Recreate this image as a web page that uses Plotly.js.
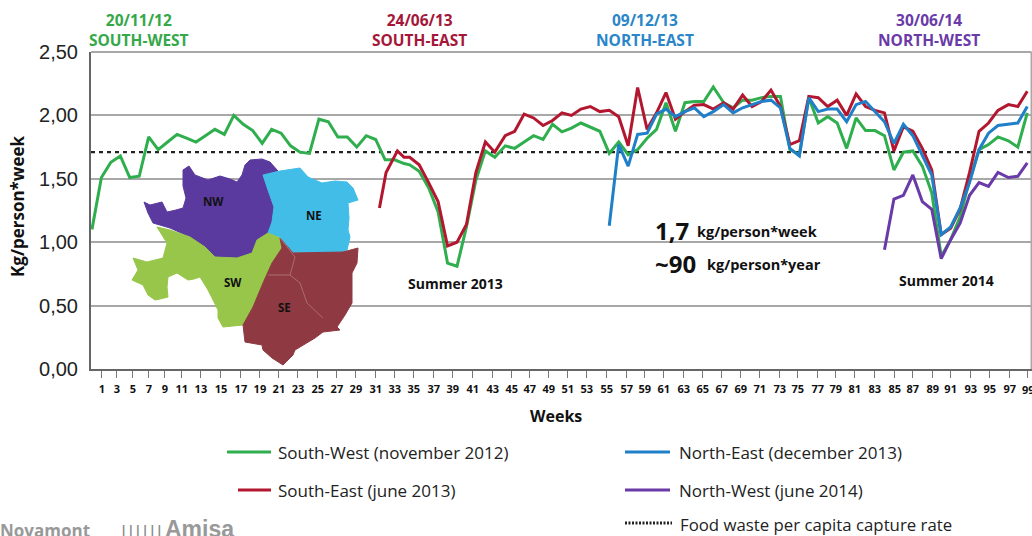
<!DOCTYPE html>
<html>
<head>
<meta charset="utf-8">
<script src="https://cdn.plot.ly/plotly-3.0.1.min.js"></script>
<style>html,body{margin:0;padding:0;background:#fff;overflow:hidden}#c{width:1032px;height:536px}</style>
</head>
<body>
<div id="c"></div>
<script>
// Week positions of the samples, as read against the axis
const weeks = [0,1,2,3,4,5,6,7,8,9,10,11,12,13,14,15,16,17,18,19,20,21,22,23,24,25,26,27,28,29,30,31,32,33,
  33.6,34.6,35.6,36.6,37.6,38.6,39.6,40.6,41.6,42.6,43.7,44.7,45.7,46.7,47.7,48.7,49.7,50.7,51.7,52.7,53.7,54.7,55.7,56.7,
  57.7,58.7,59.7,60.7,61.7,62.7,63.7,64.7,65.7,66.8,67.8,68.8,69.8,70.8,71.8,72.8,73.8,74.8,75.8,76.8,77.8,78.8,79.8,80.8,
  81.8,82.8,83.8,84.8,85.8,86.8,87.8,88.8,89.8,90.8,91.8,92.8,93.8,94.8,95.8,96.9,97.9,98.9];

const southWest = [1.10,1.51,1.63,1.68,1.51,1.52,1.83,1.73,1.79,1.85,1.82,1.79,1.84,1.89,1.85,2.00,1.93,1.88,1.78,1.89,
  1.86,1.76,1.71,1.70,1.97,1.95,1.83,1.83,1.75,1.84,1.81,1.65,1.65,1.62,
  1.61,1.56,1.43,1.24,0.835,0.81,1.12,1.49,1.72,1.67,1.76,1.74,1.79,1.84,1.81,1.93,1.87,1.90,1.94,1.91,1.875,1.70,1.79,1.69,
  1.73,1.82,1.89,2.10,1.875,2.10,2.11,2.11,2.225,2.10,2.06,2.12,2.12,2.14,2.15,2.15,1.73,1.69,2.14,1.94,1.99,1.94,1.74,1.98,
  1.88,1.88,1.84,1.57,1.71,1.72,1.60,1.39,0.89,1.02,1.20,1.49,1.73,1.77,1.83,1.80,1.75,2.02];

const southEastStart = [30.4,31.1,32.3,33];
const southEastHead = [1.27,1.55,1.72,1.67];
const southEastTail = [1.67,1.61,1.47,1.32,0.97,1.00,1.14,1.55,1.79,1.71,1.84,1.875,2.01,1.98,1.92,1.96,2.02,2.00,2.05,2.07,2.03,2.04,1.99,1.76,
  2.22,1.89,2.02,2.18,1.97,2.03,2.08,2.085,2.05,2.10,2.05,2.16,2.07,2.11,2.20,2.07,1.77,1.80,2.15,2.14,2.07,2.12,2.00,2.17,
  2.07,2.04,2.02,1.72,1.91,1.875,1.74,1.57,1.06,1.11,1.26,1.55,1.875,1.94,2.04,2.085,2.07,2.19];

const northEast = [1.13,1.77,1.60,1.85,1.86,2.01,2.05,1.99,2.03,2.06,1.99,2.03,2.085,2.02,2.06,2.085,2.11,2.12,2.06,1.74,1.68,2.14,2.03,2.05,2.05,1.95,2.085,
  2.11,2.03,1.95,1.78,1.93,1.84,1.69,1.53,1.06,1.12,1.27,1.47,1.73,1.86,1.92,1.93,1.94,2.07];

const northWest = [0.94,1.34,1.37,1.53,1.32,1.26,0.87,1.02,1.15,1.37,1.47,1.44,1.55,1.51,1.52,1.625];

const averageRate = [1.71,1.71];
const averageWeeks = [-0.1,99.4];

// The week labels are unevenly spaced in the picture, so their axis positions are listed too
const xLabels = ['1','3','5','7','9','11','13','15','17','19','21','23','25','27','29','31','33','35','37','39','41','43','45','47','49','51','53','55','57','59','61','63','65','67','69','71','73','75','77','79','81','83','85','87','89','91','93','95','97',''];
const xTickPos = [1.06,2.64,4.33,6.03,7.72,9.51,11.52,13.64,15.75,17.76,19.77,21.78,23.89,25.9,27.91,30.02,32.03,34.04,36.15,38.16,40.27,42.39,44.4,46.3,48.31,50.32,52.33,54.44,56.55,58.46,60.47,62.58,64.59,66.6,68.6,70.61,72.73,74.63,76.74,78.65,80.66,82.77,84.88,86.79,88.9,90.8,92.92,94.93,97.04,98.94];
const yTicks = [0,0.5,1,1.5,2,2.5];
const yLabels = ['0,00','0,50','1,00','1,50','2,00','2,50'];

// Inset map of the city districts (illustration, in page pixels)
const mapNW = [[144,202],[150,205],[162,202],[167,212],[176,210],[183,208],[186,198],[183,186],[183,170],[189,166],[195,175],[208,180],[220,176],[230,179],[237,182],[242,175],[245,165],[250,160],[262,159],[270,162],[278,171],[263,175],[268,190],[274,207],[272,222],[268,233],[257,240],[252,253],[237,258],[215,257],[205,247],[190,237],[170,228],[153,223],[148,213]];
const mapNE = [[263,175],[280,171],[300,168],[308,177],[322,183],[335,181],[347,182],[353,188],[358,200],[348,203],[349,218],[348,230],[350,237],[347,250],[343,252],[293,253],[280,238],[268,233],[272,222],[274,207],[268,190]];
const mapSW = [[157,227],[170,230],[190,237],[205,247],[215,257],[237,258],[252,253],[257,240],[268,233],[280,238],[282,248],[272,263],[263,283],[253,307],[243,325],[233,326],[223,327],[218,318],[218,310],[208,290],[200,277],[194,279],[188,280],[177,273],[168,277],[167,287],[168,297],[160,299],[155,300],[148,295],[143,285],[132,280],[138,270],[133,258],[147,262],[163,258],[167,243]];
const mapSE = [[280,238],[293,253],[343,252],[358,248],[357,263],[352,273],[352,290],[352,303],[345,315],[337,327],[340,330],[323,332],[315,338],[307,343],[295,350],[293,355],[283,365],[272,358],[263,350],[262,345],[245,342],[243,325],[253,307],[263,283],[272,263],[282,248]];
const mapRoads = [[[268,275],[290,275],[295,257],[280,238]],[[290,275],[300,283],[307,303],[323,318]]];

const seriesColors = {sw:'#2fae4e', se:'#b3172f', ne:'#1f7fc8', nw:'#6a3aa8'};
const mapColors = {nw:'#5a3a9e', ne:'#41bde8', sw:'#97c64a', se:'#8f3a42', road:'#ad6a70'};
const sans = '"Liberation Sans",Arial,sans-serif';
const body = '"Open Sans",sans-serif';

function poly(pts, color){
  return {x:pts.map(p=>p[0]).concat(pts[0][0]), y:pts.map(p=>p[1]).concat(pts[0][1]), xaxis:'x2', yaxis:'y2',
    mode:'lines', fill:'toself', fillcolor:color, line:{color:color,width:1}, hoverinfo:'skip', showlegend:false};
}
function road(pts){
  return {x:pts.map(p=>p[0]), y:pts.map(p=>p[1]), xaxis:'x2', yaxis:'y2', mode:'lines',
    line:{color:mapColors.road,width:1}, hoverinfo:'skip', showlegend:false};
}
function series(x,y,color){
  return {x:x, y:y, mode:'lines', line:{color:color,width:3}, showlegend:false};
}

const traces = [
  poly(mapNW,mapColors.nw), poly(mapNE,mapColors.ne), poly(mapSW,mapColors.sw), poly(mapSE,mapColors.se),
  road(mapRoads[0]), road(mapRoads[1]),
  {x:averageWeeks, y:averageRate, mode:'lines', line:{color:'#222',width:2.2,dash:'4px,4px'}, showlegend:false},
  series(weeks,southWest,seriesColors.sw),
  series(southEastStart.concat(weeks.slice(34)), southEastHead.concat(southEastTail), seriesColors.se),
  series(weeks.slice(55),northEast,seriesColors.ne),
  series(weeks.slice(84),northWest,seriesColors.nw)
];

function label(x,y,text,size,color,opts){
  return Object.assign({xref:'paper',yref:'paper',x:(x-91)/941,y:(369-y)/317,text:text,showarrow:false,
    font:{family:body,size:size,color:color},xanchor:'center',yanchor:'middle'},opts||{});
}
const annotations = [
  label(139,29.5,'<b>20/11/12<br>SOUTH-WEST</b>',15.5,'#35a84a'),
  label(419,29.5,'<b>24/06/13<br>SOUTH-EAST</b>',15.5,'#a5173a'),
  label(645,29.5,'<b>09/12/13<br>NORTH-EAST</b>',15.5,'#2a86c8'),
  label(929,29.5,'<b>30/06/14<br>NORTH-WEST</b>',15.5,'#6a3aa8'),
  label(455,283,'<b>Summer 2013</b>',14,'#111'),
  label(946,280,'<b>Summer 2014</b>',14,'#111'),
  label(653,230,'<b>1,7</b>',24,'#111',{xanchor:'left'}),
  label(695,231,'<b>kg/person*week</b>',14.5,'#111',{xanchor:'left'}),
  label(653,263,'<b>~90</b>',24,'#111',{xanchor:'left'}),
  label(705,264,'<b>kg/person*year</b>',14.5,'#111',{xanchor:'left'}),
  label(233,282,'<b>SW</b>',11.5,'#111'),
  label(284,307,'<b>SE</b>',11.5,'#111'),
  label(213,201,'<b>NW</b>',11.5,'#111'),
  label(314,215,'<b>NE</b>',11.5,'#111'),
  label(556,416,'<b>Weeks</b>',16,'#111'),
  label(17,207,'<b>Kg/person*week</b>',17,'#111',{textangle:-90}),
  label(1028,389,'<b>99</b>',11,'#111'),
  label(276,452,'South-West (november 2012)',17,'#222',{xanchor:'left'}),
  label(276,490,'South-East (june 2013)',17,'#222',{xanchor:'left'}),
  label(677,452,'North-East (december 2013)',17,'#222',{xanchor:'left'}),
  label(677,490,'North-West (june 2014)',17,'#222',{xanchor:'left'}),
  label(678,524,'Food waste per capita capture rate',16.8,'#222',{xanchor:'left'}),
  label(-2,530,'<b>Novamont</b>',17,'#999',{xanchor:'left'}),
  label(118,530,'<b>||||||</b>',13,'#888',{xanchor:'left'}),
  label(163,529,'<b>Amisa</b>',23,'#999',{xanchor:'left',font:{family:sans,size:23,color:'#999'}})
];

function sample(x0,x1,y,color,dash,w){
  return {type:'line',xref:'paper',yref:'paper',x0:(x0-91)/941,x1:(x1-91)/941,y0:(369-y)/317,y1:(369-y)/317,
    line:{color:color,width:w||3,dash:dash||'solid'}};
}
const shapes = [
  sample(227,271,452,seriesColors.sw),
  sample(238,271,490,seriesColors.se),
  sample(625,670,452,seriesColors.ne),
  sample(625,670,490,seriesColors.nw),
  sample(625,672,523,'#222','2px,1.5px',3)
];

Plotly.newPlot('c',traces,{
  width:1032,height:536,showlegend:false,
  margin:{l:91,r:0,t:52,b:167,pad:0},
  paper_bgcolor:'#fff',plot_bgcolor:'#fff',
  xaxis:{range:[-0.1,99.4],tickmode:'array',tickvals:xTickPos,ticktext:xLabels,ticks:'outside',ticklen:7,tickwidth:1,tickcolor:'#777',ticklabelstandoff:2,
    tickfont:{family:body,size:11,color:'#111',weight:700},showgrid:false,zeroline:false,showline:true,linecolor:'#666',linewidth:2,mirror:false,tickangle:0,automargin:false},
  yaxis:{range:[0,2.5],tickmode:'array',tickvals:yTicks,ticktext:yLabels,ticks:'',ticklabelstandoff:7,tickfont:{family:sans,size:20,color:'#222'},
    showgrid:true,gridcolor:'#a8a8a8',gridwidth:2,zeroline:false,showline:true,linecolor:'#666',linewidth:2,automargin:false},
  xaxis2:{range:[91,1032],overlaying:'x',visible:false,fixedrange:true},
  yaxis2:{range:[369,52],overlaying:'y',visible:false,fixedrange:true},
  annotations:annotations,
  shapes:shapes.concat([
    {type:'line',xref:'paper',yref:'paper',x0:0,x1:0.9995,y0:1,y1:1,line:{color:'#a8a8a8',width:2}},
    {type:'line',xref:'paper',yref:'paper',x0:0.9995,x1:0.9995,y0:0,y1:1,line:{color:'#a8a8a8',width:2}}
  ])
},{displayModeBar:false,staticPlot:true});
</script>
</body>
</html>
